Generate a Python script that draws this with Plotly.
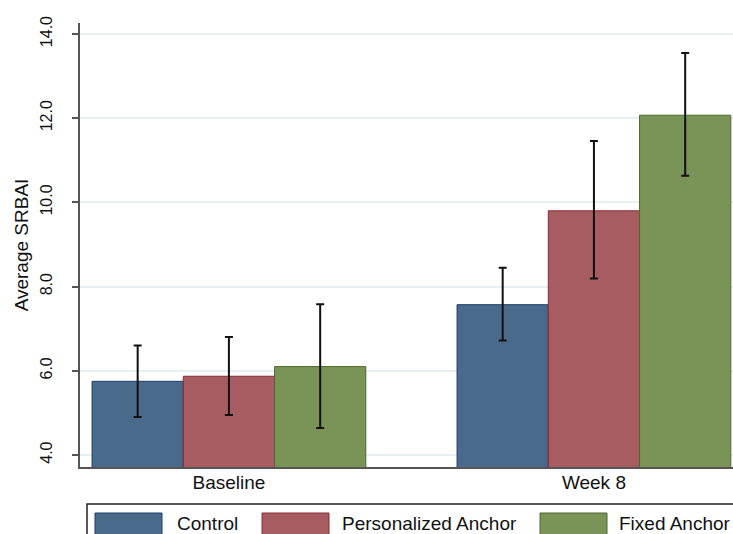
import plotly.graph_objects as go

# ---- data ----
categories = ["Baseline", "Week 8"]
series_names = ["Control", "Personalized Anchor", "Fixed Anchor"]
means = {
    "Control": [5.75, 7.57],
    "Personalized Anchor": [5.87, 9.80],
    "Fixed Anchor": [6.10, 12.07],
}
ci_upper = {
    "Control": [6.60, 8.45],
    "Personalized Anchor": [6.80, 11.46],
    "Fixed Anchor": [7.58, 13.55],
}
ci_lower = {
    "Control": [4.90, 6.72],
    "Personalized Anchor": [4.95, 8.19],
    "Fixed Anchor": [4.64, 10.63],
}
y_ticks = [4, 6, 8, 10, 12, 14]
y_tick_labels = ["4.0", "6.0", "8.0", "10.0", "12.0", "14.0"]

# ---- styles ----
fill_colors = ["#4a6a8b", "#a65c60", "#7a9357"]
line_colors = ["#1d3f6a", "#8a2a33", "#4d6b28"]
FONT = "Liberation Sans, Arial, sans-serif"

fig = go.Figure()
for i, name in enumerate(series_names):
    m = means[name]
    up = [u - v for u, v in zip(ci_upper[name], m)]
    lo = [v - l for l, v in zip(ci_lower[name], m)]
    fig.add_trace(go.Bar(
        x=categories, y=m, name=name,
        marker=dict(color=fill_colors[i], line=dict(color=line_colors[i], width=1)),
        error_y=dict(type="data", symmetric=False, array=up, arrayminus=lo,
                     color="#111111", thickness=2, width=4),
        showlegend=False,
    ))

W, H = 733, 534
# plot area in window pixels: x 80..733, y 23..467
L, T, R = 80, 23, 0
B = H - 467
pw, ph = W - L - R, H - T - B

def px_x(x):
    return (x - L) / pw

def px_y(y):
    return (H - B - y) / ph

shapes = []
annotations = []
# legend box
shapes.append(dict(type="rect", xref="paper", yref="paper",
                   x0=px_x(87), x1=px_x(760), y0=px_y(560), y1=px_y(504),
                   line=dict(color="#222222", width=1.5), fillcolor="white", layer="above"))
sw_x = [95, 262, 540]
tx_x = [175, 340, 617]
for i, name in enumerate(series_names):
    shapes.append(dict(type="rect", xref="paper", yref="paper",
                       x0=px_x(sw_x[i]), x1=px_x(sw_x[i] + 67),
                       y0=px_y(540), y1=px_y(513),
                       line=dict(color=line_colors[i], width=1),
                       fillcolor=fill_colors[i], layer="above"))
    annotations.append(dict(xref="paper", yref="paper", x=px_x(tx_x[i]), y=px_y(523),
                            text=name, showarrow=False, xanchor="left", yanchor="middle",
                            font=dict(family=FONT, size=19, color="#111111")))

fig.update_layout(
    width=W, height=H,
    margin=dict(l=L, r=R, t=T, b=B, autoexpand=False),
    barmode="group", bargap=0.25, bargroupgap=0,
    plot_bgcolor="white", paper_bgcolor="white",
    font=dict(family=FONT, color="#111111"),
    shapes=shapes, annotations=annotations,
    showlegend=False,
)
fig.update_xaxes(
    range=[-0.408, 1.381], showline=True, linecolor="#555555", linewidth=2,
    ticks="", showgrid=False, tickfont=dict(size=19, family=FONT), automargin=False,
    ticklabelstandoff=-3,
)
fig.update_yaxes(
    range=[3.715, 14.26], tickvals=y_ticks, ticktext=y_tick_labels, tickangle=-90,
    ticks="outside", ticklen=6, tickcolor="#555555", tickwidth=1.5,
    showline=True, linecolor="#555555", linewidth=2,
    showgrid=True, gridcolor="#e6eff1", gridwidth=1.5, zeroline=False,
    tickfont=dict(size=16, family=FONT), ticklabelstandoff=14,
    title=dict(text="Average SRBAI", font=dict(size=19, family=FONT), standoff=4),
    automargin=False,
)

fig.write_html(
    "out.html",
    config={"displayModeBar": False},
    post_script="document.body.style.margin='0';document.body.style.overflow='hidden';"
                "document.documentElement.style.overflow='hidden';",
)
